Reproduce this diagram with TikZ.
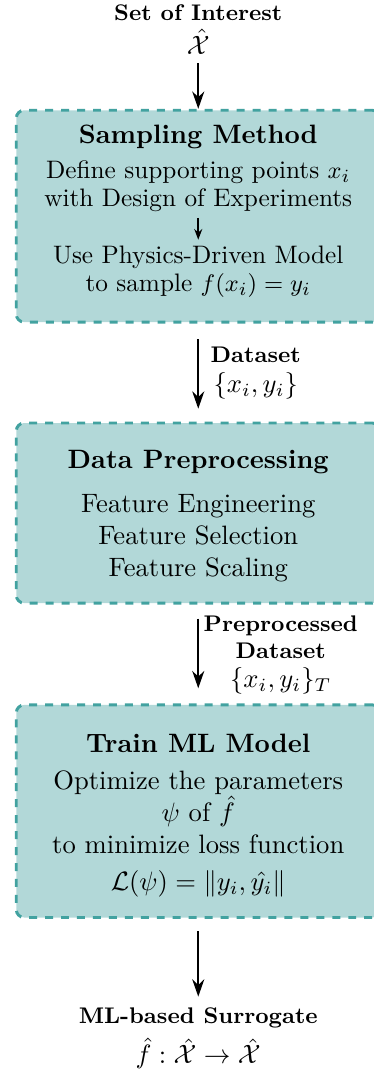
\documentclass[tikz,border=0pt]{standalone}
\usepackage{amsmath,amssymb}
\usetikzlibrary{arrows.meta}
\definecolor{boxfill}{RGB}{178,216,216}
\definecolor{boxline}{RGB}{66,162,160}
\newcommand{\lblfont}{\fontsize{8.5pt}{10pt}\selectfont\bfseries}
\tikzset{
  stage/.style={draw=boxline, fill=boxfill, dashed, line width=1.1pt,
    rounded corners=3pt, minimum width=4.81cm},
  flow/.style={-{Stealth[length=6.5pt,width=4.5pt]}, line width=0.9pt},
  subflow/.style={-{Stealth[length=4pt,width=3pt]}, line width=0.7pt},
  txt/.style={align=center, inner sep=1pt},
  smalltxt/.style={align=center, inner sep=1pt, font=\fontsize{9.5pt}{10.8pt}\selectfont},
  lbl/.style={align=center, inner sep=1pt, font=\lblfont}
}
\begin{document}
\begin{tikzpicture}
\useasboundingbox (0,0) rectangle (4.94,-14.14);

% blocks
\node [stage, minimum height=2.80cm] (sampling) at (2.62,-2.857) {};
\node [stage, minimum height=2.38cm] (preproc) at (2.62,-6.78) {};
\node [stage, minimum height=2.81cm] (training) at (2.62,-10.72) {};

% input
\node [lbl] (soi) at (2.62,-0.39) {Set of Interest\\[3pt] {\normalsize $\hat{\mathcal{X}}$}};

% sampling method
\node [txt] (samptitle) at (2.62,-1.81) {\bfseries Sampling Method};
\node [smalltxt] (define) at (2.62,-2.46) {Define supporting points $x_i$\\ with Design of Experiments};
\node [smalltxt] (physics) at (2.62,-3.59) {Use Physics-Driven Model\\ to sample $f(x_i)=y_i$};

% preprocessing
\node [txt] (pretitle) at (2.62,-6.105) {\bfseries Data Preprocessing};
\node [txt] (features) at (2.62,-7.11) {Feature Engineering\\ Feature Selection\\ Feature Scaling};

% training
\node [txt] (traintitle) at (2.62,-9.82) {\bfseries Train ML Model};
\node [txt] (optimize) at (2.62,-11.02) {Optimize the parameters\\ $\psi$ of $\hat{f}$\\ to minimize loss function\\[2pt] $\mathcal{L}(\psi)=\lVert y_i,\hat{y_i}\rVert$};

% output
\node [lbl] (surrogate) at (2.62,-13.72) {ML-based Surrogate\\[3pt] {\normalsize $\hat{f}:\hat{\mathcal{X}}\rightarrow\hat{\mathcal{X}}$}};

% arrows
\draw [flow, shorten <=2pt] (soi) -- (sampling);
\draw [subflow, shorten <=1pt, shorten >=1pt] (define) -- (physics);
\draw [flow, shorten <=0.21cm, shorten >=0.17cm] (sampling) -- (preproc);
\draw [flow, shorten <=0.185cm, shorten >=0.2cm] (preproc) -- (training);
\draw [flow, shorten <=0.16cm, shorten >=0.1cm] (training) -- (surrogate);

% labels
\node [lbl] (dataset) at (3.38,-4.93) {Dataset\\[1pt] {\normalsize $\{x_i,y_i\}$}};
\node [lbl] (predataset) at (3.71,-8.66) {Preprocessed\\ Dataset\\[1pt] {\normalsize $\{x_i,y_i\}_T$}};
\end{tikzpicture}
\end{document}
